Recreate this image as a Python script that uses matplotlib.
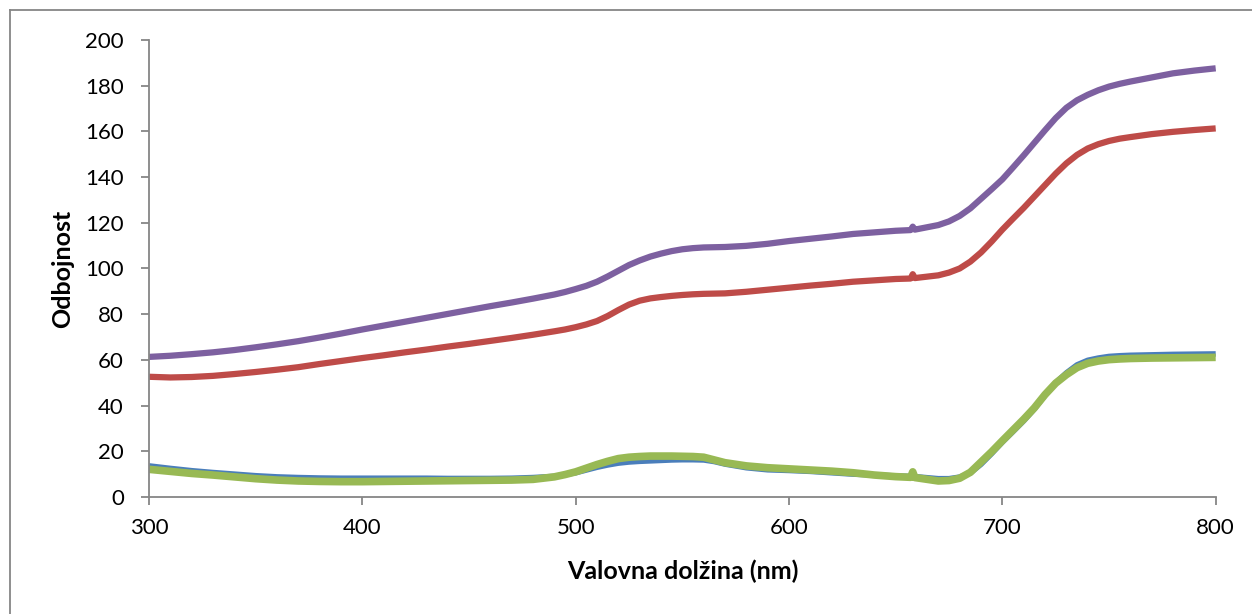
import matplotlib
matplotlib.use("Agg")
import matplotlib.pyplot as plt
from matplotlib.lines import Line2D

# Valovne dolžine (nm) - skupna os za vse serije
wl = ([300, 310, 320, 330, 340, 350, 360, 370, 380, 390,
       400, 410, 420, 430, 440, 450, 460, 470, 480]
      + [490, 495, 500, 505, 510, 515, 520, 525, 530, 535,
         540, 545, 550, 555, 560, 565, 570]
      + [580, 590, 600, 610, 620, 630, 640, 650]
      + [657, 658, 659]
      + [670, 675, 680, 685, 690, 695, 700, 705, 710, 715,
         720, 725, 730, 735, 740, 745, 750, 755, 760]
      + [770, 780, 790, 800])

blue = ([13.6, 12.5, 11.5, 10.7, 10.0, 9.3, 8.8, 8.5, 8.3, 8.2,
         8.2, 8.2, 8.2, 8.2, 8.1, 8.1, 8.1, 8.2, 8.5]
        + [9.0, 9.8, 10.6, 11.8, 13.0, 14.0, 14.8, 15.3, 15.6, 15.8,
           16.0, 16.2, 16.3, 16.3, 16.2, 15.5, 14.4]
        + [12.8, 11.9, 11.6, 11.2, 10.6, 10.0, 9.6, 9.2]
        + [9.0, 9.0, 8.9]
        + [8.0, 8.0, 8.7, 10.5, 14.3, 19.0, 24.0, 28.6, 33.3, 38.5,
           44.5, 50.0, 54.3, 57.8, 59.8, 60.8, 61.5, 61.8, 62.0]
        + [62.2, 62.4, 62.5, 62.6])

red = ([52.6, 52.3, 52.5, 53.0, 53.8, 54.7, 55.7, 56.8, 58.2, 59.5,
        60.8, 62.0, 63.3, 64.5, 65.8, 67.0, 68.3, 69.6, 71.0]
       + [72.5, 73.3, 74.3, 75.5, 77.0, 79.2, 81.8, 84.2, 85.9, 86.9,
          87.5, 88.0, 88.4, 88.7, 88.9, 89.0, 89.1]
       + [89.8, 90.7, 91.6, 92.5, 93.3, 94.2, 94.8, 95.4]
       + [95.6, 97.5, 95.8]
       + [97.0, 98.2, 100.0, 103.0, 107.0, 111.8, 117.0, 121.8, 126.5, 131.5,
          136.5, 141.5, 146.0, 149.7, 152.5, 154.4, 155.8, 156.8, 157.5]
       + [158.8, 159.8, 160.6, 161.3])

green = ([12.1, 11.2, 10.3, 9.6, 8.8, 8.0, 7.4, 7.0, 6.8, 6.7,
          6.7, 6.8, 6.9, 7.0, 7.1, 7.2, 7.3, 7.4, 7.7]
         + [8.8, 9.8, 11.0, 12.6, 14.2, 15.6, 16.8, 17.4, 17.7, 17.9,
            17.9, 17.9, 17.8, 17.7, 17.4, 16.2, 15.0]
         + [13.6, 12.8, 12.3, 11.8, 11.3, 10.6, 9.6, 8.9]
         + [8.6, 11.0, 8.5]
         + [7.0, 7.2, 8.2, 10.8, 15.3, 19.8, 24.6, 29.3, 34.0, 39.0,
            44.8, 49.8, 53.5, 56.6, 58.5, 59.5, 60.1, 60.4, 60.6]
         + [60.8, 60.9, 61.0, 61.1])

purple = ([61.3, 61.8, 62.5, 63.3, 64.3, 65.5, 66.8, 68.2, 69.8, 71.5,
           73.3, 75.0, 76.7, 78.4, 80.1, 81.8, 83.5, 85.1, 86.8]
          + [88.6, 89.7, 91.0, 92.4, 94.2, 96.5, 99.0, 101.5, 103.5, 105.2,
             106.5, 107.6, 108.4, 108.9, 109.2, 109.3, 109.4]
          + [109.9, 110.8, 112.0, 113.0, 114.0, 115.1, 115.8, 116.5]
          + [116.8, 118.3, 117.0]
          + [119.0, 120.6, 123.0, 126.3, 130.5, 134.7, 139.0, 144.2, 149.5, 155.0,
             160.5, 165.8, 170.3, 173.6, 176.0, 178.0, 179.6, 180.8, 181.8]
          + [183.6, 185.4, 186.6, 187.6])

x_ticks = [300, 400, 500, 600, 700, 800]
y_ticks = list(range(0, 201, 20))

plt.rcParams['font.family'] = ['Lato', 'DejaVu Sans']

fig = plt.figure(figsize=(12.52, 6.14), dpi=100)
ax = fig.add_axes([0.119, 0.1906, 0.852, 0.7443])

# Excel barve serij
style = dict(solid_capstyle="butt", solid_joinstyle="round")
ax.plot(wl, blue, color="#4A7EBB", lw=4.0, **style)
ax.plot(wl, red, color="#BE4B48", lw=4.5, **style)
ax.plot(wl, green, color="#98B954", lw=5.5, **style)
ax.plot(wl, purple, color="#7D60A0", lw=4.5, **style)

ax.set_xlim(300, 800)
ax.set_ylim(0, 200)
ax.set_xticks(x_ticks)
ax.set_yticks(y_ticks)

for s in ["top", "right"]:
    ax.spines[s].set_visible(False)
for s in ["left", "bottom"]:
    ax.spines[s].set_color("#868686")
    ax.spines[s].set_linewidth(1.3)

ax.tick_params(axis="both", direction="out", color="#868686", width=1.3,
               length=6, labelsize=16)
ax.tick_params(axis="y", pad=12)
ax.tick_params(axis="x", pad=9)

ax.set_xlabel("Valovna dolžina (nm)", fontsize=18, fontweight="bold", labelpad=16)
ax.set_ylabel("Odbojnost", fontsize=18, fontweight="bold", labelpad=8)

# okvir grafa (viden le zgoraj in levo)
fig.add_artist(Line2D([10 / 1252, 10 / 1252], [0, 1 - 10 / 614],
                      transform=fig.transFigure, color="#868686", lw=1.3))
fig.add_artist(Line2D([10 / 1252, 1], [1 - 10 / 614, 1 - 10 / 614],
                      transform=fig.transFigure, color="#868686", lw=1.3))

fig.savefig("out.png", dpi=100)
